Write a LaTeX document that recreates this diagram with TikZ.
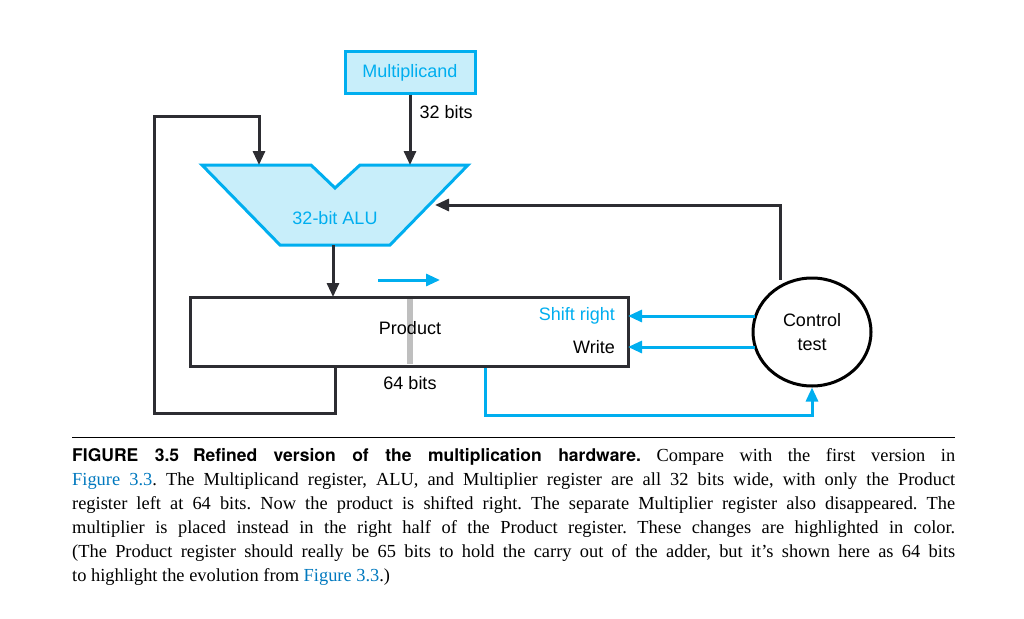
\documentclass[tikz,border=0pt]{standalone}
\usepackage{fontspec}
\setmainfont{Liberation Serif}
\newfontfamily\diagfont{Liberation Sans}
\newfontfamily\headfont{TeX Gyre Heros}
\usetikzlibrary{arrows.meta, shapes.geometric}
\definecolor{hwblue}{RGB}{0,174,239}
\definecolor{hwfill}{RGB}{200,238,250}
\definecolor{hwdark}{RGB}{45,45,50}
\definecolor{linkblue}{RGB}{0,120,190}
\tikzset{
  wire/.style={draw=hwdark, line width=3pt},
  bluewire/.style={draw=hwblue, line width=3pt},
  arr/.style={-{Triangle[length=14pt,width=12pt]}},
  lbl/.style={font=\diagfont\fontsize{18}{21}\selectfont, inner sep=0pt}
}
\begin{document}
\begin{tikzpicture}[x=1pt,y=-1pt]
          \useasboundingbox (0,0) rectangle (1024,618);

          % Multiplicand register
          \node[lbl, draw=hwblue, fill=hwfill, line width=3pt, text=hwblue,
                minimum width=130pt, minimum height=41pt] (mcand) at (410,72.5) {Multiplicand};

          % ALU
          \draw[line width=3pt, draw=hwblue, fill=hwfill]
            (202,165) -- (311,165) -- (335,188) -- (360,165) -- (468,165)
            -- (390,245) -- (280,245) -- cycle;
          \coordinate (aluA) at (259,165);
          \coordinate (aluB) at (410,165);
          \coordinate (aluC) at (435,205);
          \coordinate (aluOut) at (333,245);
          \node[lbl, text=hwblue] (alutxt) at (335,218) {32-bit ALU};

          % Product register
          \node[draw=hwdark, line width=3pt, minimum width=438pt, minimum height=69pt,
                inner sep=0pt] (prod) at (409,331.5) {};
          \fill[gray!50] (407,299) rectangle (413,364);
          \node[lbl] (prodtxt) at (410,328) {Product};
          \node[lbl, text=hwblue, anchor=east] (shift) at (615,316) {Shift right};
          \node[lbl, anchor=east] (write) at (615,347) {Write};
          \node[lbl] (bits64) at (410,383) {64 bits};
          \coordinate (prodIn) at (333,297);
          \coordinate (prodS) at (628,316);
          \coordinate (prodW) at (628,347);

          % Control
          \node[draw=black, line width=3pt, ellipse, minimum width=118pt, minimum height=108pt,
                inner sep=0pt, lbl, align=center] (ctrl) at (812,332) {Control\\[3pt]test};

          % Connectors
          \draw[wire, arr] (mcand.south) -- node[lbl, right=8pt, pos=0.25] {32 bits} (aluB);
          \draw[wire, arr] (aluOut) -- (prodIn);
          \draw[wire, arr] (prod.south -| 335,0) -- (335,413) -- (154,413) -- (154,116) -- (259,116) -- (aluA);
          \draw[wire, arr] (ctrl.north -| 780,0) ++(0,3) -- (780,205) -- (aluC);
          \draw[bluewire, arr] (ctrl.west |- prodS) ++(3,0) -- (prodS);
          \draw[bluewire, arr] (ctrl.west |- prodW) ++(3,0) -- (prodW);
          \draw[bluewire, arr] (prod.south -| 485,0) -- (485,415) -- (812,415) -- (ctrl.south);
          \draw[bluewire, arr] (378,280) -- (440,280);

          % Caption
          \draw[line width=1pt] (72,437) -- (955,437);
          \node[anchor=north west, inner sep=0pt, text width=883pt, align=justify,
                font=\frenchspacing\fontsize{18.4}{24}\selectfont] (caption) at (72,448)
          {{\headfont\fontsize{17.5}{24}\selectfont\bfseries FIGURE 3.5\hspace{14pt}Refined version of the multiplication hardware.}
           Compare with the first version in\linebreak
           {\color{linkblue}Figure 3.3}. The Multiplicand register, ALU, and Multiplier register are all 32 bits wide, with only the Product\linebreak
           register left at 64 bits. Now the product is shifted right. The separate Multiplier register also disappeared. The\linebreak
           multiplier is placed instead in the right half of the Product register. These changes are highlighted in color.\linebreak
           (The Product register should really be 65 bits to hold the carry out of the adder, but it's shown here as 64 bits\linebreak
           to highlight the evolution from {\color{linkblue}Figure 3.3}.)};
        \end{tikzpicture}
\end{document}
